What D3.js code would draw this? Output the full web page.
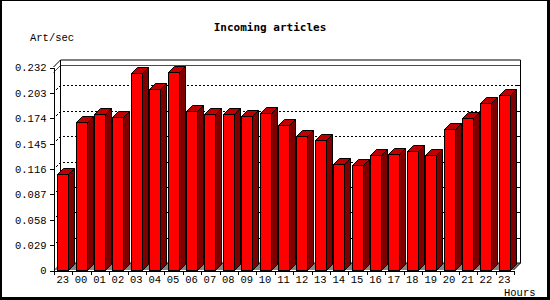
<!DOCTYPE html>
<html>
<head>
<meta charset="utf-8">
<script src="https://cdn.jsdelivr.net/npm/d3@7"></script>
<style>
html,body{margin:0;padding:0;background:#fff;}
svg{display:block;}
</style>
</head>
<body>
<svg id="chart" width="550" height="300"></svg>
<script>
// ---- data ----
const hours = ["23","00","01","02","03","04","05","06","07","08","09","10","11","12","13","14","15","16","17","18","19","20","21","22","23"];
const artPerSec = [0.1094,0.1688,0.1779,0.1745,0.2248,0.2065,0.2259,0.1813,0.1779,0.1779,0.1764,0.1798,0.1653,0.1528,0.1482,0.1208,0.1196,0.1310,0.1322,0.1356,0.1310,0.1608,0.1737,0.1905,0.1996];
const yTickValues = [0,0.029,0.058,0.087,0.116,0.145,0.174,0.203,0.232];
const yTickLabels = ["0","0.029","0.058","0.087","0.116","0.145","0.174","0.203","0.232"];
const title = "Incoming articles";
const yTitle = "Art/sec";
const xTitle = "Hours";

// ---- layout ----
const W = 550, H = 300;
const L = 53.5, R = 513.5, B = 270, T = 67;
const D = 7;      // frame depth
const BD = 6;     // bar depth
const FONT = "'Liberation Mono','DejaVu Sans Mono',monospace";

const svg = d3.select("#chart");
svg.append("rect").attr("width", W).attr("height", H).attr("fill", "#fff");

const y = d3.scaleLinear().domain([0, 0.232]).range([B, T]);
const x = d3.scaleBand().domain(d3.range(hours.length)).range([L, R]).paddingInner(0.4).paddingOuter(0.2);
const xb = d3.scaleLinear().domain([0, hours.length]).range([L, R]);

const g = svg.append("g");

// floor
g.append("path")
  .attr("d", `M${L},${B}L${L + D},${B - D}L${R + D},${B - D}L${R},${B}Z`)
  .attr("fill", "#888");

// grid lines (back plane + left wall)
const gridVals = yTickValues.filter(v => v > 0 && v < 0.232);
g.selectAll("path.grid").data(gridVals).join("path")
  .attr("class", "grid")
  .attr("d", v => { const yy = Math.round(y(v)) + 0.5; return `M${L},${yy}L${L + D},${yy - D}L${R + D},${yy - D}`; })
  .attr("fill", "none").attr("stroke", "#000").attr("stroke-width", 1).attr("stroke-dasharray", "2,2")
  .attr("shape-rendering", "crispEdges");
// right edge ticks
g.selectAll("line.rt").data(gridVals).join("line")
  .attr("x1", R + D - 4).attr("x2", R + D)
  .attr("y1", v => Math.round(y(v)) + 0.5 - D).attr("y2", v => Math.round(y(v)) + 0.5 - D)
  .attr("stroke", "#000").attr("shape-rendering", "crispEdges");

// max line (red)
const maxV = d3.max(artPerSec);
const ym = Math.round(y(maxV)) + 0.5;
g.append("path")
  .attr("d", `M${L},${ym}L${L + D},${ym - D}L${R + D},${ym - D}`)
  .attr("fill", "none").attr("stroke", "#f00").attr("stroke-width", 1);

// back frame
g.append("path")
  .attr("d", `M${L},${T}L${L + D},${T - D}L${R + D},${T - D}L${R + D},${B - D}L${R},${B}`)
  .attr("fill", "none").attr("stroke", "#000").attr("stroke-width", 1);
g.append("line")
  .attr("x1", L + D).attr("x2", L + D).attr("y1", T - D).attr("y2", B - D)
  .attr("stroke", "#000");
g.append("line")
  .attr("x1", L + D).attr("x2", R + D).attr("y1", B - D).attr("y2", B - D)
  .attr("stroke", "#000");

// bars
const bw = x.bandwidth();
const bars = g.selectAll("g.bar").data(artPerSec).join("g").attr("class", "bar");
bars.append("path") // side
  .attr("d", (d, i) => { const x0 = Math.round(x(i)) + 0.5, x1 = x0 + Math.round(bw), yy = Math.round(y(d)) + 0.5;
    return `M${x1},${yy}L${x1 + BD},${yy - BD}L${x1 + BD},${B - BD + 0.5}L${x1},${B + 0.5}Z`; })
  .attr("fill", "#800000").attr("stroke", "#000").attr("stroke-width", 1);
bars.append("path") // top
  .attr("d", (d, i) => { const x0 = Math.round(x(i)) + 0.5, x1 = x0 + Math.round(bw), yy = Math.round(y(d)) + 0.5;
    return `M${x0},${yy}L${x0 + BD},${yy - BD}L${x1 + BD},${yy - BD}L${x1},${yy}Z`; })
  .attr("fill", "#c00000").attr("stroke", "#000").attr("stroke-width", 1);
bars.append("rect") // front
  .attr("x", (d, i) => Math.round(x(i)) + 0.5)
  .attr("y", d => Math.round(y(d)) + 0.5)
  .attr("width", Math.round(bw))
  .attr("height", d => B - Math.round(y(d)))
  .attr("fill", "#ff0000").attr("stroke", "#000").attr("stroke-width", 1);

// y axis
const yAxis = d3.axisLeft(y).tickValues(yTickValues).tickFormat((d, i) => yTickLabels[i]).tickSize(4).tickPadding(3).tickSizeOuter(0);
const ya = svg.append("g").attr("transform", `translate(${L},0.5)`).call(yAxis);
ya.select(".domain").attr("stroke", "#000").attr("shape-rendering", "crispEdges");
ya.selectAll(".tick line").attr("stroke", "#000").attr("shape-rendering", "crispEdges");
ya.selectAll("text").attr("font-family", FONT).attr("font-size", "10.5px").attr("fill", "#000");

// x axis: boundary ticks
const xAxisTicks = d3.axisBottom(xb).tickValues(d3.range(hours.length + 1)).tickFormat("").tickSize(4).tickSizeOuter(0);
const xa = svg.append("g").attr("transform", `translate(0.5,${B + 0.5})`).call(xAxisTicks);
xa.select(".domain").attr("stroke", "#000").attr("shape-rendering", "crispEdges");
xa.selectAll(".tick line").attr("stroke", "#000").attr("shape-rendering", "crispEdges");
// x labels
const xAxisLabels = d3.axisBottom(x).tickFormat(i => hours[i]).tickSize(0).tickPadding(6);
const xl = svg.append("g").attr("transform", `translate(0,${B})`).call(xAxisLabels);
xl.select(".domain").remove();
xl.selectAll("text").attr("font-family", FONT).attr("font-size", "10.5px").attr("fill", "#000");

// titles
svg.append("text").attr("x", 270).attr("y", 31).attr("text-anchor", "middle")
  .attr("font-family", "'DejaVu Sans Mono',monospace").attr("font-weight", "bold").attr("font-size", "11px").text(title);
svg.append("text").attr("x", 30).attr("y", 41)
  .attr("font-family", FONT).attr("font-size", "10.5px").text(yTitle);
svg.append("text").attr("x", 504).attr("y", 296)
  .attr("font-family", FONT).attr("font-size", "10.5px").text(xTitle);

// outer frame
svg.append("rect").attr("x", 0).attr("y", 0).attr("width", 2).attr("height", H).attr("fill", "#000");
svg.append("rect").attr("x", 0).attr("y", 0).attr("width", W).attr("height", 1).attr("fill", "#000");
svg.append("rect").attr("x", W - 3).attr("y", 0).attr("width", 3).attr("height", H).attr("fill", "#000");
svg.append("rect").attr("x", 0).attr("y", H - 3).attr("width", W).attr("height", 3).attr("fill", "#000");
</script>
</body>
</html>
